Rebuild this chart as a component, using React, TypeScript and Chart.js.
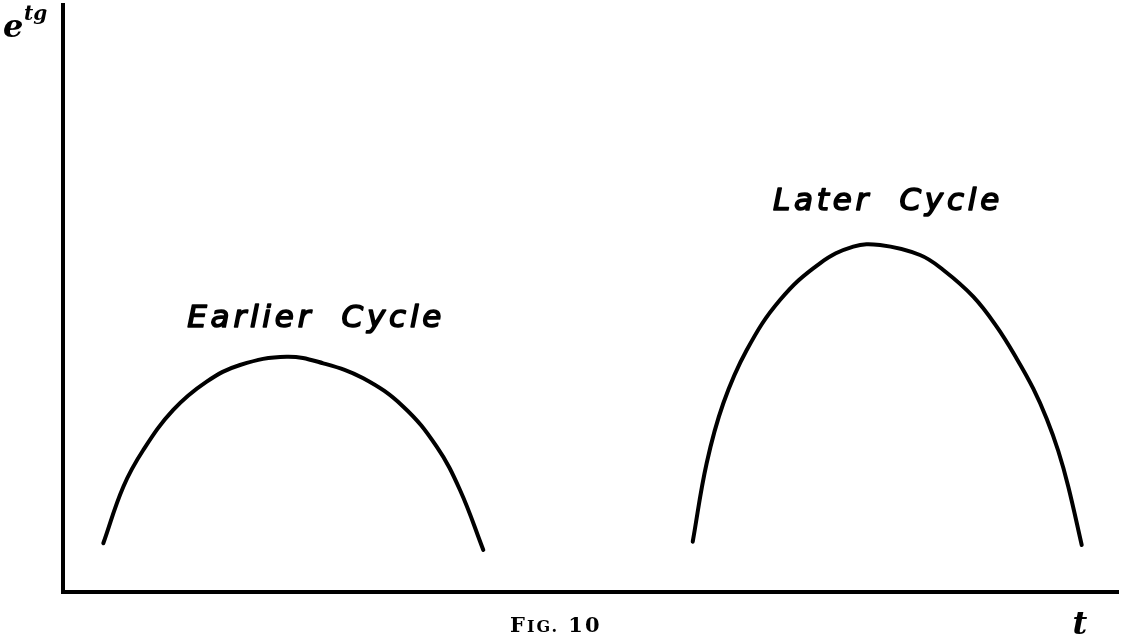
import React, { useEffect, useRef } from "react";
import { Chart, registerables } from "chart.js";

Chart.register(...registerables);

// Earlier cycle (t, e^{tg})
const earlierT = [3.82, 5.72, 7.61, 10.45, 13.62, 16.78, 21.2, 24.67, 28.46, 32.26, 35.42, 37.63, 39.84];
const earlierY = [8.3, 17.94, 24.19, 31.01, 35.83, 38.67, 40.09, 38.96, 36.41, 31.57, 24.75, 17.38, 7.16];

// Later cycle
const laterT = [59.69, 61.01, 62.59, 64.81, 67.96, 71.75, 74.91, 77.44, 81.23, 83.44, 86.28, 88.5, 90.4, 91.97, 93.24, 94.34, 95.29, 96.56];
const laterY = [8.57, 21.93, 32.15, 41.23, 49.74, 56.0, 58.83, 59.11, 57.41, 54.85, 50.31, 45.2, 39.74, 34.63, 29.52, 24.02, 17.94, 8.01];

// Curve labels (centre t, baseline value)
const curveLabels = ["Earlier  Cycle", "Later  Cycle"];
const curveLabelT = [24.0, 78.2];
const curveLabelY = [45.1, 65.1];

const yAxisLabel = "e";
const yAxisSup = "tg";
const xAxisLabel = "t";
const figCaption = ["F", "IG.", " 10"];

export default function App() {
  const ref = useRef<HTMLCanvasElement | null>(null);

  useEffect(() => {
    if (!ref.current) return;
    const toPts = (xs: number[], ys: number[]) => xs.map((x, i) => ({ x, y: ys[i] }));

    const textPlugin = {
      id: "figText",
      afterDatasetsDraw(chart: any) {
        const ctx = chart.ctx as CanvasRenderingContext2D;
        const xs = chart.scales.x;
        const ys = chart.scales.y;
        const area = chart.chartArea;
        ctx.save();
        ctx.fillStyle = "#000";
        ctx.strokeStyle = "#000";
        // curve labels
        ctx.font = "italic 31px 'DejaVu Sans'";
        (ctx as any).letterSpacing = "3.8px";
        ctx.textAlign = "center";
        ctx.textBaseline = "alphabetic";
        ctx.lineWidth = 1.6;
        ctx.lineJoin = "round";
        curveLabels.forEach((s, i) => {
          const px = xs.getPixelForValue(curveLabelT[i]);
          const py = ys.getPixelForValue(curveLabelY[i]);
          ctx.fillText(s, px, py);
          ctx.strokeText(s, px, py);
        });
        (ctx as any).letterSpacing = "0px";
        // y axis label e^{tg}
        ctx.textAlign = "left";
        ctx.font = "bold italic 32px 'DejaVu Serif'";
        ctx.fillText(yAxisLabel, area.left - 60, area.top + 32);
        ctx.font = "bold italic 20px 'DejaVu Serif'";
        ctx.fillText(yAxisSup, area.left - 39, area.top + 15);
        // x axis label t
        ctx.textAlign = "center";
        ctx.font = "bold italic 32px 'DejaVu Serif'";
        ctx.fillText(xAxisLabel, area.right - 38, area.bottom + 42);
        // caption FIG. 10 (small caps)
        ctx.textAlign = "left";
        let cx = area.left + 447;
        const base = area.bottom + 40;
        (ctx as any).letterSpacing = "2px";
        ctx.font = "bold 21px 'DejaVu Serif'";
        ctx.fillText(figCaption[0], cx, base);
        cx += ctx.measureText(figCaption[0]).width;
        ctx.font = "bold 16px 'DejaVu Serif'";
        ctx.fillText(figCaption[1], cx, base);
        cx += ctx.measureText(figCaption[1]).width;
        ctx.font = "bold 21px 'DejaVu Serif'";
        ctx.fillText(figCaption[2], cx, base);
        (ctx as any).letterSpacing = "0px";
        ctx.restore();
      },
    };

    const chart = new Chart(ref.current, {
      type: "line",
      data: {
        datasets: [
          { label: "Earlier Cycle", data: toPts(earlierT, earlierY) },
          { label: "Later Cycle", data: toPts(laterT, laterY) },
        ],
      },
      options: {
        responsive: false,
        animation: false,
        devicePixelRatio: 1,
        layout: { padding: { left: 63, right: 3, top: 5, bottom: 48 } },
        elements: {
          line: {
            borderColor: "#000",
            borderWidth: 4,
            tension: 0.4,
            borderCapStyle: "round",
            borderJoinStyle: "round",
            fill: false,
          },
          point: { radius: 0, hoverRadius: 0 },
        },
        plugins: { legend: { display: false }, tooltip: { enabled: false }, title: { display: false } },
        scales: {
          x: {
            type: "linear",
            min: 0,
            max: 100,
            grid: { display: false, drawTicks: false },
            ticks: { display: false },
            border: { display: true, color: "#000", width: 4 },
            afterFit: (s: any) => { s.height = 0; },
          },
          y: {
            type: "linear",
            min: 0,
            max: 100,
            grid: { display: false, drawTicks: false },
            ticks: { display: false },
            border: { display: true, color: "#000", width: 4 },
            afterFit: (s: any) => { s.width = 0; },
          },
        },
      } as any,
      plugins: [textPlugin],
    });
    return () => chart.destroy();
  }, []);

  return (
    <div style={{ position: "fixed", left: 0, top: 0, width: 1121, height: 640, background: "#fff" }}>
      <canvas ref={ref} width={1121} height={640} style={{ display: "block" }} />
    </div>
  );
}
